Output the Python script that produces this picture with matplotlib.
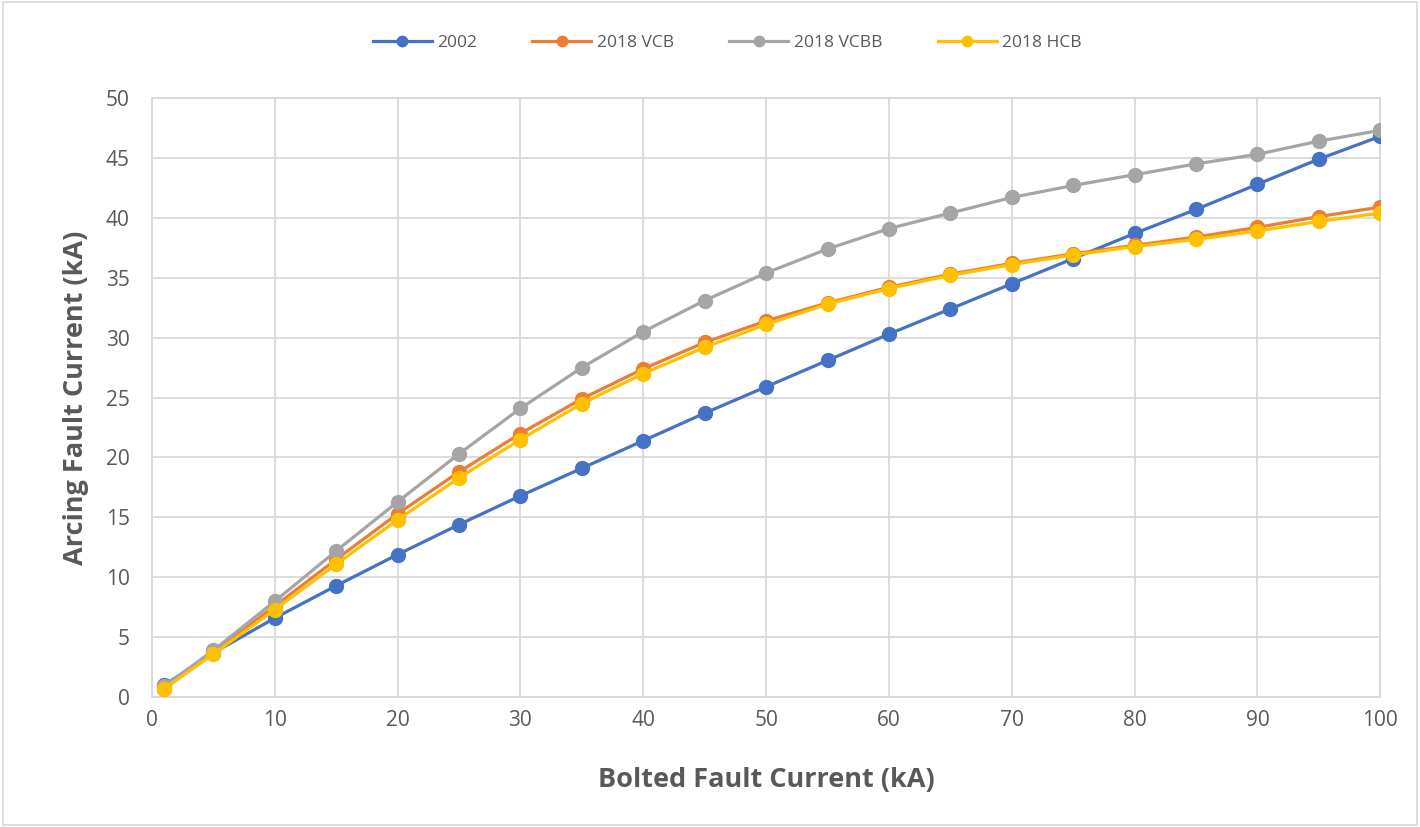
import matplotlib
matplotlib.use("Agg")
import matplotlib.pyplot as plt

x = [1, 5, 10, 15, 20, 25, 30, 35, 40, 45, 50, 55, 60, 65, 70, 75, 80, 85, 90, 95, 100]
s2002 = [1.0, 3.7, 6.6, 9.3, 11.9, 14.4, 16.8, 19.1, 21.4, 23.7, 25.9, 28.1, 30.3, 32.4, 34.5, 36.6, 38.7, 40.7, 42.8, 44.9, 46.8]
vcb = [0.7, 3.7, 7.6, 11.5, 15.3, 18.8, 22.0, 24.9, 27.4, 29.6, 31.4, 32.9, 34.2, 35.3, 36.2, 37.0, 37.7, 38.4, 39.2, 40.1, 40.9]
vcbb = [0.9, 3.9, 8.0, 12.2, 16.3, 20.3, 24.1, 27.5, 30.5, 33.1, 35.4, 37.4, 39.1, 40.4, 41.7, 42.7, 43.6, 44.5, 45.3, 46.4, 47.3]
hcb = [0.7, 3.6, 7.3, 11.1, 14.8, 18.3, 21.5, 24.5, 27.0, 29.2, 31.1, 32.8, 34.1, 35.2, 36.1, 36.9, 37.6, 38.2, 38.9, 39.7, 40.4]
names = ["2002", "2018 VCB", "2018 VCBB", "2018 HCB"]
colors = ["#4472C4", "#ED7D31", "#A5A5A5", "#FFC000"]

plt.rcParams['font.family'] = ['Open Sans', 'DejaVu Sans']
fig = plt.figure(figsize=(14.2, 8.27), dpi=100)
ax = fig.add_axes([0.107, 0.157, 0.865, 0.7245])

for ys, n, c in zip([s2002, vcb, vcbb, hcb], names, colors):
    ax.plot(x, ys, color=c, lw=2.3, marker='o', ms=10, label=n, zorder=3)

ax.set_xlim(0, 100)
ax.set_ylim(0, 50)
ax.set_xticks(range(0, 101, 10))
ax.set_yticks(range(0, 51, 5))
ax.grid(True, color='#D9D9D9', lw=1.3)
ax.set_axisbelow(True)
for sp in ax.spines.values():
    sp.set_color('#D9D9D9')
    sp.set_linewidth(1.3)
ax.tick_params(length=0, labelsize=15, colors='#595959')
ax.tick_params(axis='x', pad=9)
ax.tick_params(axis='y', pad=16)
ax.set_xlabel('Bolted Fault Current (kA)', fontsize=19.5, fontweight='bold', color='#595959', labelpad=26)
ax.set_ylabel('Arcing Fault Current (kA)', fontsize=19.5, fontweight='bold', color='#595959', labelpad=12)

leg = fig.legend(loc='center', bbox_to_anchor=(0.512, 0.948), ncol=4, frameon=False,
                 fontsize=12.5, handlelength=3.4, columnspacing=3.2, handletextpad=0.3,
                 markerscale=0.75)
for t in leg.get_texts():
    t.set_color('#595959')

fig.patches.append(plt.Rectangle((0.002, 0.002), 0.996, 0.996, transform=fig.transFigure,
                                 fill=False, edgecolor='#D9D9D9', lw=1.2))
fig.savefig('out.png', dpi=100, facecolor='white')
